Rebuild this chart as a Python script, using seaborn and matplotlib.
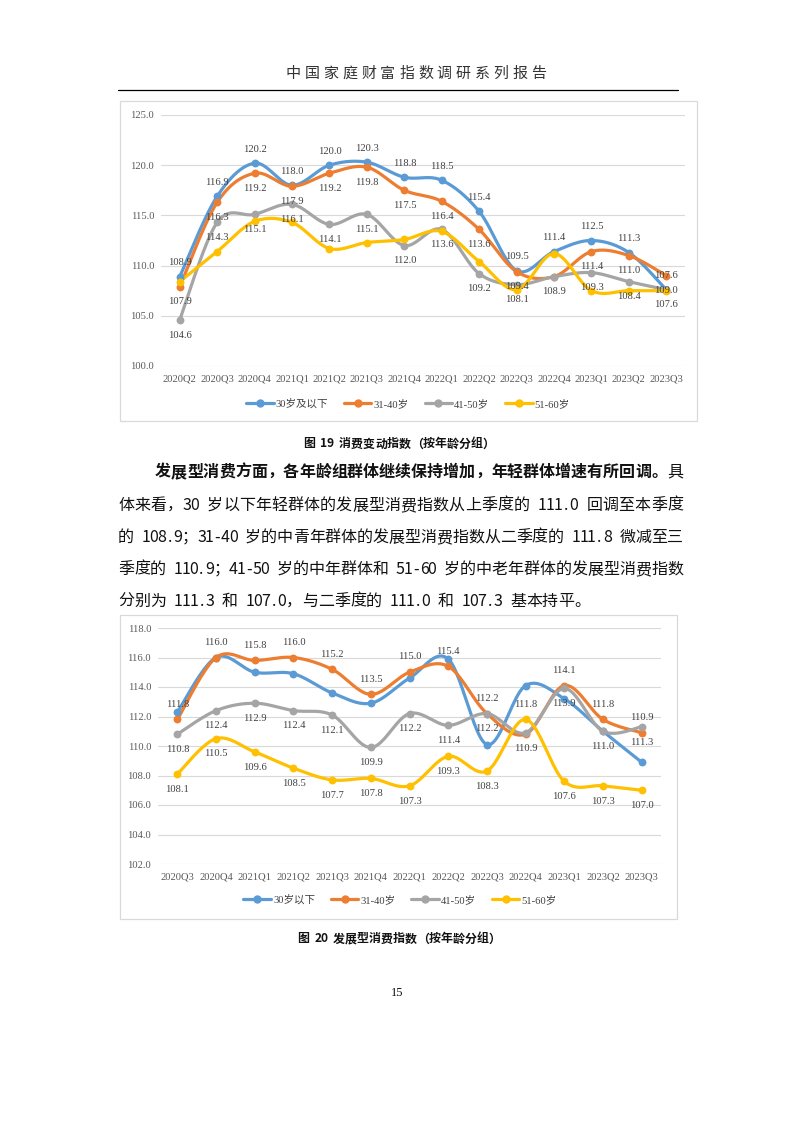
import numpy as np
import pandas as pd
import matplotlib
matplotlib.use('Agg')
import matplotlib.pyplot as plt
import seaborn as sns
from matplotlib.lines import Line2D
from matplotlib.patches import Rectangle

# ---- data ----
quarters_1 = ['2020Q2', '2020Q3', '2020Q4', '2021Q1', '2021Q2', '2021Q3', '2021Q4',
              '2022Q1', '2022Q2', '2022Q3', '2022Q4', '2023Q1', '2023Q2', '2023Q3']
groups_1 = ['30岁及以下', '31-40岁', '41-50岁', '51-60岁']
cons_u30 = [108.9, 116.9, 120.2, 118.0, 120.0, 120.3, 118.8, 118.5, 115.4, 109.5, 111.4, 112.5, 111.3, 107.6]
cons_31_40 = [107.9, 116.3, 119.2, 117.9, 119.2, 119.8, 117.5, 116.4, 113.6, 109.4, 108.9, 111.4, 111.0, 109.0]
cons_41_50 = [104.6, 114.3, 115.1, 116.1, 114.1, 115.1, 112.0, 113.6, 109.2, 108.1, 108.9, 109.3, 108.4, 107.6]
cons_51_60 = [108.4, 111.4, 114.4, 114.3, 111.7, 112.3, 112.6, 113.4, 110.4, 107.6, 111.2, 107.5, 107.5, 107.5]

quarters_2 = ['2020Q3', '2020Q4', '2021Q1', '2021Q2', '2021Q3', '2021Q4', '2022Q1',
              '2022Q2', '2022Q3', '2022Q4', '2023Q1', '2023Q2', '2023Q3']
groups_2 = ['30岁以下', '31-40岁', '41-50岁', '51-60岁']
dev_u30 = [112.3, 116.0, 115.0, 114.9, 113.6, 112.9, 114.6, 115.9, 110.1, 114.1, 113.2, 111.0, 108.9]
dev_31_40 = [111.8, 116.0, 115.8, 116.0, 115.2, 113.5, 115.0, 115.4, 112.2, 110.8, 114.1, 111.8, 110.9]
dev_41_50 = [110.8, 112.4, 112.9, 112.4, 112.1, 109.9, 112.2, 111.4, 112.2, 110.9, 113.9, 111.0, 111.3]
dev_51_60 = [108.1, 110.5, 109.6, 108.5, 107.7, 107.8, 107.3, 109.3, 108.3, 111.8, 107.6, 107.3, 107.0]

yticks_1 = [100, 105, 110, 115, 120, 125]
yticks_2 = [102, 104, 106, 108, 110, 112, 114, 116, 118]

colors = ['#5B9BD5', '#ED7D31', '#A5A5A5', '#FFC000']

sns.set_style('white')
SERIF = ['Liberation Serif', 'Noto Sans CJK SC']
CJK = ['Noto Sans CJK SC', 'DejaVu Sans']
plt.rcParams['font.family'] = SERIF

W, H = 793, 1122
fig = plt.figure(figsize=(W / 100, H / 100), dpi=100)


def fx(x):
    return x / W


def fy(y):
    return 1 - y / H


def smooth(xs, ys, n=24):
    # Excel-like smoothed line (cubic bezier through the points)
    pts = np.column_stack([xs, ys]).astype(float)
    out = []
    for i in range(len(pts) - 1):
        p0 = pts[i - 1] if i > 0 else pts[i]
        p1, p2 = pts[i], pts[i + 1]
        p3 = pts[i + 2] if i + 2 < len(pts) else pts[i + 1]
        c1 = p1 + (p2 - p0) / 6
        c2 = p2 - (p3 - p1) / 6
        t = np.linspace(0, 1, n, endpoint=False)[:, None]
        out.append((1 - t) ** 3 * p1 + 3 * (1 - t) ** 2 * t * c1 + 3 * (1 - t) * t ** 2 * c2 + t ** 3 * p2)
    out.append(pts[-1:])
    return np.vstack(out)


def draw_chart(box, plot, quarters, series, names, yticks, label_off, skip, legend_c):
    bl, bt, br, bb = box
    fig.add_artist(Rectangle((fx(bl), fy(bb)), (br - bl) / W, (bb - bt) / H,
                             transform=fig.transFigure, fill=False, ec='#D9D9D9', lw=0.9))
    l, t, r, b = plot
    ax = fig.add_axes([fx(l), fy(b), (r - l) / W, (b - t) / H])
    x = np.arange(len(quarters))
    for name, vals, col in zip(names, series, colors):
        curve = smooth(x, vals)
        sns.lineplot(x=curve[:, 0], y=curve[:, 1], ax=ax, color=col, lw=2.3,
                     sort=False, estimator=None)
        sns.scatterplot(x=x, y=vals, ax=ax, color=col, s=32, linewidth=0, zorder=3)
    for name, vals in zip(names, series):
        for i, v in enumerate(vals):
            off = skip.get((name, i), label_off[name])
            if off is None:
                continue
            ax.annotate(f'{v:.1f}', (i, v), xytext=(0, off), textcoords='offset points',
                        ha='center', va='center', fontsize=7.6, color='#404040',
                        zorder=5, annotation_clip=False)
    ax.set_xlim(-0.5, len(quarters) - 0.5)
    ax.set_ylim(yticks[0], yticks[-1])
    ax.set_yticks(yticks, [f'{v:.1f}' for v in yticks])
    ax.set_xticks(x, quarters)
    ax.grid(axis='y', color='#D9D9D9', lw=0.8)
    ax.grid(axis='x', visible=False)
    ax.set_axisbelow(True)
    for s in ax.spines.values():
        s.set_visible(False)
    ax.tick_params(length=0, labelsize=7.6, labelcolor='#595959')
    ax.tick_params(axis='y', pad=5)
    ax.tick_params(axis='x', pad=6)
    ax.set_xlabel('')
    ax.set_ylabel('')
    handles = [Line2D([0], [0], color=c, lw=2.3, marker='o', ms=5) for c in colors]
    fig.legend(handles, names, loc='center', bbox_to_anchor=(fx(legend_c[0]), fy(legend_c[1])),
               ncol=4, frameon=False, fontsize=7.6, handlelength=2.6, handletextpad=0.2,
               columnspacing=1.5, labelcolor='#404040')
    return ax


# chart 1: 消费变动指数
draw_chart((120, 101, 697, 421), (161, 115, 685, 366), quarters_1,
           [cons_u30, cons_31_40, cons_41_50, cons_51_60], groups_1, yticks_1,
           {'30岁及以下': 10, '31-40岁': -11, '41-50岁': -11, '51-60岁': None},
           {('31-40岁', 10): None}, (408, 404))

# chart 2: 发展型消费指数
draw_chart((120, 615, 677, 919), (158, 628, 661, 864), quarters_2,
           [dev_u30, dev_31_40, dev_41_50, dev_51_60], groups_2, yticks_2,
           {'30岁以下': None, '31-40岁': 11, '41-50岁': -11, '51-60岁': -11},
           {('31-40岁', 9): None, ('51-60岁', 9): 11}, (400, 900))


# ---- page text ----
def cell(ch, em):
    return em if ord(ch) > 0x2000 else em / 2


def put_chars(segments, x0, yc, em, x1=None, gap=0.0, center=False, color='#111111'):
    chars = [(ch, w) for s, w in segments for ch in s]
    widths = [cell(ch, em) for ch, _ in chars]
    if x1 is not None:
        gap = (x1 - x0 - sum(widths)) / (len(chars) - 1)
    if center:
        x0 = x0 - (sum(widths) + gap * (len(chars) - 1)) / 2
    x = x0
    base = yc + 0.37 * em
    for (ch, w), wd in zip(chars, widths):
        if ch != ' ':
            fig.text(fx(x + wd / 2), fy(base), ch, ha='center', va='baseline',
                     fontsize=em * 0.72, fontweight=w, family=CJK, color=color)
        x += wd + gap


put_chars([('中国家庭财富指数调研系列报告', 'light')], 416, 72, 15, gap=3.9,
          center=True, color='#333333')
fig.add_artist(Line2D([fx(118), fx(678)], [fy(90), fy(90)], color='black', lw=0.9,
                      transform=fig.transFigure))

put_chars([('图 19 消费变动指数（按年龄分组）', 'bold')], 399, 443, 12, center=True)

em = 16
put_chars([('发展型消费方面，各年龄组群体继续保持增加，年轻群体增速有所回调。', 'bold'),
           ('具', 'normal')], 155, 471, em, x1=683)
put_chars([('体来看，30 岁以下年轻群体的发展型消费指数从上季度的 111.0 回调至本季度', 'normal')],
          118, 504, em, x1=683)
put_chars([('的 108.9；31-40 岁的中青年群体的发展型消费指数从二季度的 111.8 微减至三', 'normal')],
          118, 536, em, x1=683)
put_chars([('季度的 110.9；41-50 岁的中年群体和 51-60 岁的中老年群体的发展型消费指数', 'normal')],
          118, 568, em, x1=683)
put_chars([('分别为 111.3 和 107.0，与二季度的 111.0 和 107.3 基本持平。', 'normal')],
          118, 600, em)

put_chars([('图 20 发展型消费指数（按年龄分组）', 'bold')], 399, 938, 12, center=True)

fig.text(fx(397), fy(993), '15', ha='center', va='center', fontsize=9, color='#111111')

fig.savefig('out.png', dpi=100, facecolor='white')
